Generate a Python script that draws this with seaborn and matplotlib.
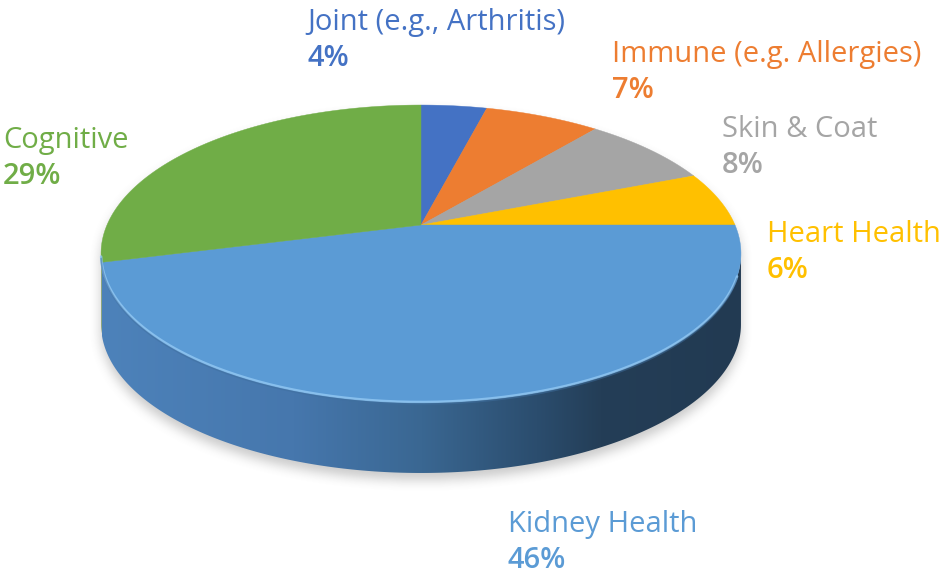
import numpy as np
import matplotlib
matplotlib.use("Agg")
import matplotlib.pyplot as plt
import seaborn as sns
from matplotlib.patches import Polygon
from matplotlib.path import Path
from matplotlib.colors import LinearSegmentedColormap, to_rgb

# ---- data ----
categories = ["Joint (e.g., Arthritis)", "Immune (e.g. Allergies)", "Skin & Coat",
              "Heart Health", "Kidney Health", "Cognitive"]
values = [4, 7, 8, 6, 46, 29]
colors = ["#4472C4", "#ED7D31", "#A5A5A5", "#FFC000", "#5B9BD5", "#70AD47"]

# ---- layout (pixels) ----
W, H = 951, 578
CX, CY = 421, 225          # pie centre on screen
SX, SY = 314, 143          # projected radii
K = 0.192                  # perspective strength
DEPTH = 71                 # side height
label_pos = [(307, 30), (612, 62), (722, 137), (767, 242), (508, 532), (3, 148)]
LINE_GAP = 36

sns.set_theme(style="white")
plt.rcParams["font.family"] = ["Open Sans", "DejaVu Sans"]

fig = plt.figure(figsize=(W / 100, H / 100), dpi=100)
ax = fig.add_axes([0, 0, 1, 1])
ax.set_xlim(0, W)
ax.set_ylim(H, 0)
ax.axis("off")


def proj(theta, r=1.0):
    x = r * np.cos(theta)
    y = r * np.sin(theta)
    w = 1 + K * y
    return CX + SX * x / w, CY - SY * y / w


total = float(sum(values))
bounds = [np.pi / 2]
for v in values:
    bounds.append(bounds[-1] - 2 * np.pi * v / total)

th_left = np.pi + np.arcsin(K)       # left silhouette
th_right = 2 * np.pi - np.arcsin(K)  # right silhouette


def arc(a, b, n=200):
    t = np.linspace(a, b, n)
    X, Y = proj(t)
    return np.column_stack([X, Y])


# ---- outline & shadow ----
front_bot = arc(th_left, th_right, 400) + np.array([0, DEPTH])
outline = np.vstack([arc(-np.arcsin(K), np.pi + np.arcsin(K), 400), front_bot])
yy, xx = np.mgrid[0:H, 0:W]
mask = Path(outline + np.array([0, 7])).contains_points(
    np.column_stack([xx.ravel() + 0.5, yy.ravel() + 0.5])).reshape(H, W).astype(float)


def box_blur(a, r):
    for axis in (0, 1):
        c = np.cumsum(np.pad(a, [(r + 1, r) if i == axis else (0, 0) for i in range(2)]), axis=axis)
        if axis == 0:
            a = (c[2 * r + 1:, :] - c[:-2 * r - 1, :]) / (2 * r + 1)
        else:
            a = (c[:, 2 * r + 1:] - c[:, :-2 * r - 1]) / (2 * r + 1)
    return a


sh = box_blur(box_blur(mask, 6), 6)
rgba = np.zeros((H, W, 4))
rgba[..., :3] = 0.45
rgba[..., 3] = sh * 0.38
ax.imshow(rgba, extent=(0, W, H, 0), zorder=1, interpolation="bilinear")

# ---- sides ----
side_cmap = LinearSegmentedColormap.from_list(
    "side", [(0.0, "#4d82ba"), (0.3, "#4677ad"), (0.5, "#3a6792"),
             (0.68, "#2b4d6e"), (0.78, "#243e57"), (1.0, "#223a52")])
for i, (a, b) in enumerate(zip(bounds[:-1], bounds[1:])):
    lo = max(b, th_left - 2 * np.pi)
    hi = min(a, th_right - 2 * np.pi)
    if lo >= hi:
        continue
    top_edge = arc(lo, hi, 300)
    side = np.vstack([top_edge, top_edge[::-1] + np.array([0, DEPTH])])
    poly = Polygon(side, closed=True, facecolor="none", edgecolor="none", zorder=2)
    ax.add_patch(poly)
    if categories[i] == "Kidney Health":
        x0, x1 = side[:, 0].min(), side[:, 0].max()
        grad = np.linspace(0, 1, 256)[None, :]
        im = ax.imshow(grad, cmap=side_cmap, extent=(x0, x1, side[:, 1].max(), side[:, 1].min()),
                       aspect="auto", zorder=2, interpolation="bilinear")
        im.set_clip_path(poly)
    else:
        c = np.array(to_rgb(colors[i])) * 0.7
        poly.set_facecolor(c)

# ---- top face wedges ----
for i, (a, b) in enumerate(zip(bounds[:-1], bounds[1:])):
    pts = np.vstack([[CX, CY], arc(b, a, 200)])
    ax.add_patch(Polygon(pts, closed=True, facecolor=colors[i], edgecolor=colors[i],
                         lw=0.3, zorder=3))

# rim highlight along front edge
rim = arc(th_left - 2 * np.pi + 0.02, th_right - 2 * np.pi - 0.15, 300)
ax.plot(rim[:, 0], rim[:, 1], color="#8fc6f2", lw=1.8, alpha=0.85, zorder=4,
        solid_capstyle="round")
rim2 = rim + np.array([0, 2.0])
ax.plot(rim2[:, 0], rim2[:, 1], color="#3f6f9f", lw=1.2, alpha=0.5, zorder=4)

# ---- labels ----
for (x, y), name, v, c in zip(label_pos, categories, values, colors):
    ax.text(x, y, name, color=c, fontsize=21, va="baseline", ha="left")
    ax.text(x, y + LINE_GAP, f"{v}%", color=c, fontsize=21, va="baseline", ha="left",
            fontweight="semibold")

fig.savefig("out.png", dpi=100, facecolor="white")
